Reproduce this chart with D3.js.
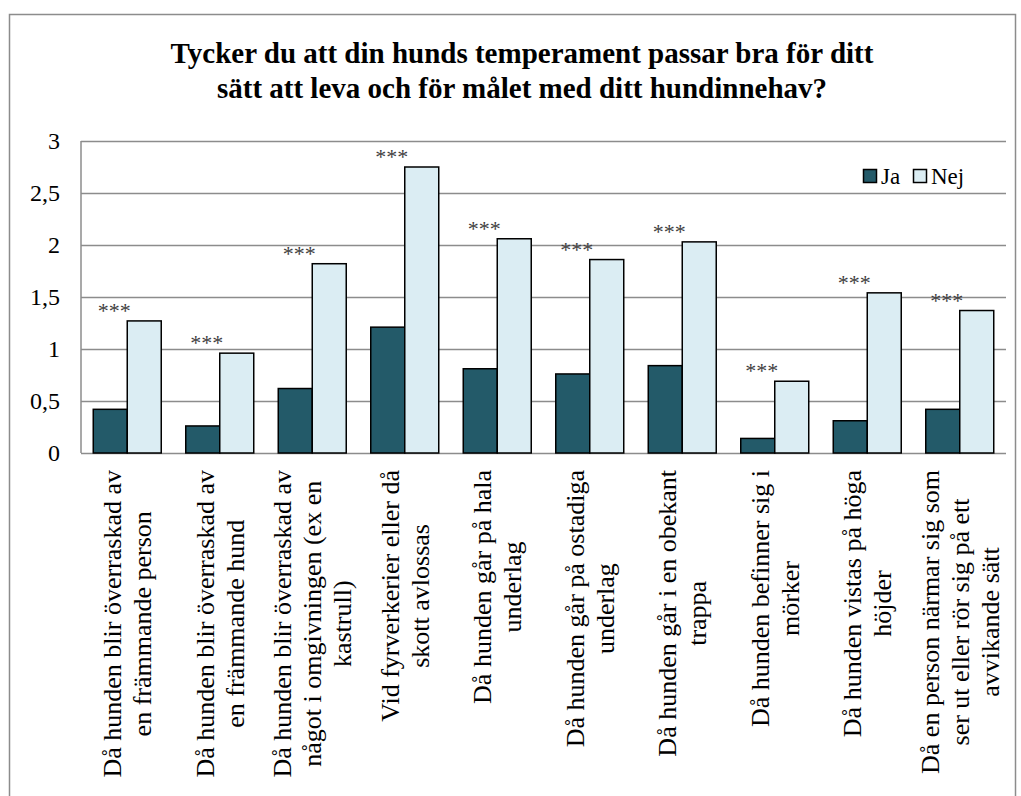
<!DOCTYPE html>
<html>
<head>
<meta charset="utf-8">
<script src="https://cdn.jsdelivr.net/npm/d3@7"></script>
<style>
  html, body { margin: 0 !important; background: #fff; }
  svg text, svg tspan { font-family: "Liberation Serif", "Times New Roman", serif !important; }
</style>
</head>
<body>
<div class="canvas"></div>
<script>
// data
const categories = [
  ['Då hunden blir överraskad av', 'en främmande person'],
  ['Då hunden blir överraskad av', 'en främmande hund'],
  ['Då hunden blir överraskad av', 'något i omgivningen (ex en', 'kastrull)'],
  ['Vid fyrverkerier eller då', 'skott avlossas'],
  ['Då hunden går på hala', 'underlag'],
  ['Då hunden går på ostadiga', 'underlag'],
  ['Då hunden går i en obekant', 'trappa'],
  ['Då hunden befinner sig i', 'mörker'],
  ['Då hunden vistas på höga', 'höjder'],
  ['Då en person närmar sig som', 'ser ut eller rör sig på ett', 'avvikande sätt']
];
const ja  = [0.42, 0.26, 0.62, 1.21, 0.81, 0.76, 0.84, 0.14, 0.31, 0.42];
const nej = [1.27, 0.96, 1.82, 2.75, 2.06, 1.86, 2.03, 0.69, 1.54, 1.37];
const signif = ['***', '***', '***', '***', '***', '***', '***', '***', '***', '***'];
const series = ['Ja', 'Nej'];
const yTicks = [0, 0.5, 1, 1.5, 2, 2.5, 3];
const titleLines = ['Tycker du att din hunds temperament passar bra för ditt',
                    'sätt att leva och för målet med ditt hundinnehav?'];

const colors = { Ja: '#235a69', Nej: '#dbedf3' };
const font = 'Liberation Serif';

const width = 1021, height = 796;
const plot = { left: 81, right: 1006, top: 141, bottom: 453 };

const svg = d3.select('.canvas')
  .append('svg')
  .attr('width', width)
  .attr('height', height)
  .attr('font-family', font);

// chart border
svg.append('rect')
  .attr('x', 9.5).attr('y', 14.5)
  .attr('width', 1006).attr('height', 800)
  .attr('fill', 'none')
  .attr('stroke', '#8c8c8c')
  .attr('stroke-width', 1.5);

// title
svg.selectAll('text.title')
  .data(titleLines)
  .enter().append('text')
  .attr('class', 'title')
  .attr('x', 522)
  .attr('y', (d, i) => 63 + i * 35)
  .attr('text-anchor', 'middle')
  .attr('font-size', 29)
  .attr('font-weight', 'bold')
  .attr('font-family', font)
  .text(d => d);

// scales
const x0 = d3.scaleBand()
  .domain(d3.range(categories.length))
  .range([plot.left, plot.right]);

const bw = x0.bandwidth();
const groupW = bw * 0.735;
const x1 = d3.scaleBand()
  .domain(series)
  .range([(bw - groupW) / 2, (bw + groupW) / 2]);

const y = d3.scaleLinear()
  .domain([0, 3])
  .range([plot.bottom, plot.top]);

// gridlines + y axis
const yAxis = d3.axisLeft(y)
  .tickValues(yTicks)
  .tickSize(-(plot.right - plot.left))
  .tickPadding(21)
  .tickFormat(d => String(d).replace('.', ','));

const yAxisGroup = svg.append('g')
  .attr('transform', `translate(${plot.left},0)`)
  .call(yAxis)
  .attr('font-family', font)
  .attr('font-size', 24);
yAxisGroup.select('.domain')
  .attr('stroke', '#8c8c8c')
  .attr('stroke-width', 1.5)
  .attr('d', `M0,${plot.top}V${plot.bottom}`);
yAxisGroup.selectAll('.tick line')
  .attr('stroke', '#8c8c8c')
  .attr('stroke-width', 1.5);
yAxisGroup.selectAll('.tick text')
  .attr('fill', '#000');

// bars
const groups = svg.append('g')
  .selectAll('g')
  .data(categories.map((c, i) => ({ i, values: [{ key: 'Ja', v: ja[i] }, { key: 'Nej', v: nej[i] }] })))
  .enter().append('g')
  .attr('transform', d => `translate(${x0(d.i)},0)`);

groups.selectAll('rect')
  .data(d => d.values)
  .enter().append('rect')
  .attr('x', d => x1(d.key))
  .attr('y', d => y(d.v))
  .attr('width', x1.bandwidth())
  .attr('height', d => y(0) - y(d.v))
  .attr('fill', d => colors[d.key])
  .attr('stroke', '#000')
  .attr('stroke-width', 1.5);

// significance marks
svg.selectAll('text.sig')
  .data(signif)
  .enter().append('text')
  .attr('class', 'sig')
  .attr('x', (d, i) => x0(i) + bw / 2 - 13)
  .attr('y', (d, i) => y(nej[i]) - 3)
  .attr('text-anchor', 'middle')
  .attr('font-size', 22)
  .attr('fill', '#404040')
  .attr('font-family', font)
  .text(d => d);

// x axis labels (rotated, multi-line, lines centred on the longest one)
const labelSize = 26;
const labelTop = 470;
const lineH = 30;

const labels = svg.append('g')
  .selectAll('g')
  .data(categories)
  .enter().append('g');

labels.each(function (lines, i) {
  const g = d3.select(this);
  const texts = g.selectAll('text')
    .data(lines)
    .enter().append('text')
    .attr('x', 0)
    .attr('y', (d, j) => (j - (lines.length - 1) / 2) * lineH + labelSize * 0.35)
    .attr('text-anchor', 'middle')
    .attr('font-size', labelSize)
    .attr('font-family', font)
    .text(d => d);
  let maxLen = 0;
  texts.each(function () {
    maxLen = Math.max(maxLen, this.getComputedTextLength());
  });
  g.attr('transform', `translate(${x0(i) + bw / 2},${labelTop + maxLen / 2}) rotate(-90)`);
});

// legend
const legendX = { Ja: 863, Nej: 913 };
series.forEach(s => {
  svg.append('rect')
    .attr('x', legendX[s] + 0.5)
    .attr('y', 169.5)
    .attr('width', 13)
    .attr('height', 13)
    .attr('fill', colors[s])
    .attr('stroke', '#000')
    .attr('stroke-width', 1.5);
  svg.append('text')
    .attr('x', legendX[s] + 18)
    .attr('y', 184)
    .attr('font-size', 23)
    .attr('font-family', font)
    .text(s);
});
</script>
</body>
</html>
